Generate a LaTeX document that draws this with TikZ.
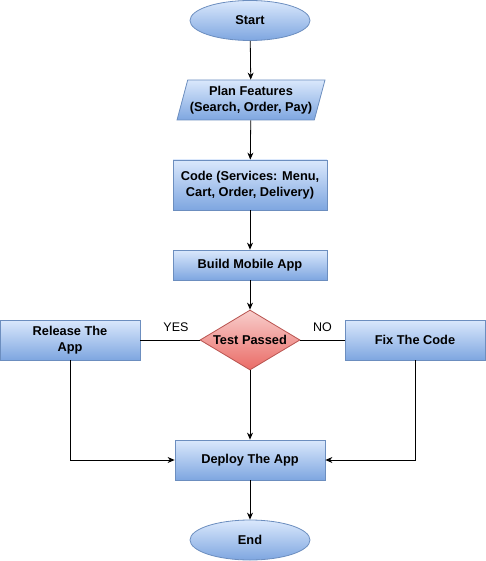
\documentclass[tikz,border=0pt]{standalone}
\usepackage{fontspec}
\setmainfont{Liberation Sans}
\usetikzlibrary{shapes.geometric,arrows.meta}
\definecolor{bluetop}{HTML}{DAE8FC}
\definecolor{bluebot}{HTML}{7EA6E0}
\definecolor{blueline}{HTML}{6C8EBF}
\definecolor{redtop}{HTML}{F8CECC}
\definecolor{redbot}{HTML}{EA6B66}
\definecolor{redline}{HTML}{B85450}
\tikzset{
  base/.style={font=\fontsize{12.8}{16.5}\selectfont\bfseries, align=center, inner sep=0pt, line width=0.8pt},
  bluefill/.style={base, draw=blueline, top color=bluetop, bottom color=bluebot},
  box/.style={bluefill, rectangle, minimum width=#1, minimum height=40pt},
  oval/.style={bluefill, ellipse, minimum width=120pt, minimum height=40pt},
  para/.style={bluefill, trapezium, trapezium left angle=70, trapezium right angle=110, minimum width=148pt, minimum height=40pt, trapezium stretches=true},
  dec/.style={base, diamond, draw=redline, top color=redtop, bottom color=redbot, minimum width=100pt, minimum height=60pt, aspect=1.667},
  arr/.style={-{Stealth[length=7pt,width=6pt]}, line width=0.8pt},
  lab/.style={font=\fontsize{12.5}{15}\selectfont}
}
\begin{document}
\begin{tikzpicture}[x=1pt,y=-1pt]
\useasboundingbox (0,0) rectangle (486,561);
\node[oval] (start) at (250,20.5) {Start};
\node[para] (plan) at (251,100) {Plan Features\\(Search, Order, Pay)};
\node[box=154pt, minimum height=50pt] (code) at (250,185) {Code (Services: Menu,\\Cart, Order, Delivery)};
\node[box=154pt, minimum height=30pt] (build) at (250,265) {Build Mobile App};
\node[dec] (test) at (250,340) {Test Passed};
\node[box=140pt] (rel) at (70,340) {Release The\\App};
\node[box=140pt] (fix) at (415,340) {Fix The Code};
\node[box=150pt] (dep) at (250,460) {Deploy The App};
\node[oval] (end) at (250,540) {End};
\coordinate (relc) at (70,460);
\coordinate (fixc) at (415,460);
\draw[arr] (start) -- (plan);
\draw[arr] (plan) -- (code);
\draw[arr] (code) -- (build);
\draw[arr] (build) -- (test);
\draw[line width=0.8pt] (test.west) -- (rel.east) node[lab, pos=0.4, above=5pt] {YES};
\draw[line width=0.8pt] (test.east) -- (fix.west) node[lab, midway, above=5pt] {NO};
\draw[arr] (test) -- (dep);
\draw[arr] (rel.south) -- (relc) -- (dep.west);
\draw[arr] (fix.south) -- (fixc) -- (dep.east);
\draw[arr] (dep) -- (end);
\end{tikzpicture}
\end{document}
